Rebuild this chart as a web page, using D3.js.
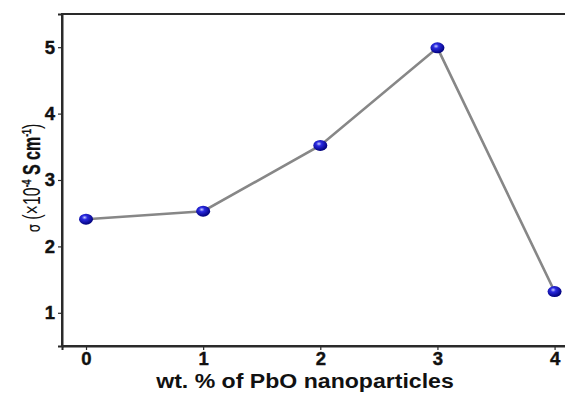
<!DOCTYPE html>
<html>
<head>
<meta charset="utf-8">
<script src="https://cdn.jsdelivr.net/npm/d3@7"></script>
<style>
  body { margin: 0; background: #fff; }
  svg { display: block; font-family: "Liberation Sans", Arial, sans-serif; }
</style>
</head>
<body>
<div id="chart"></div>
<script>
const wtPercent = [0, 1, 2, 3, 4];
const sigma = [2.41, 2.53, 3.52, 4.99, 1.32];
const xTicks = [0, 1, 2, 3, 4];
const yTicks = [1, 2, 3, 4, 5];

const width = 565, height = 393;
const x = d3.scaleLinear().domain([-0.205, 4.2]).range([62, 578]);
const y = d3.scaleLinear().domain([0.5, 5.5]).range([346, 14]);

const svg = d3.select("#chart").append("svg")
  .attr("width", width).attr("height", height);

// gradient for the shiny markers
const grad = svg.append("defs").append("radialGradient")
  .attr("id", "ball").attr("cx", "40%").attr("cy", "35%").attr("r", "65%");
grad.append("stop").attr("offset", "0%").attr("stop-color", "#c8ccff");
grad.append("stop").attr("offset", "30%").attr("stop-color", "#2a2ae0");
grad.append("stop").attr("offset", "100%").attr("stop-color", "#00007a");

// frame
svg.append("rect")
  .attr("x", x.range()[0]).attr("y", y.range()[1])
  .attr("width", x.range()[1] - x.range()[0])
  .attr("height", y.range()[0] - y.range()[1])
  .attr("fill", "none").attr("stroke", "#2a2a2a").attr("stroke-width", 2);

const fmt = d3.format("d");
const xAxis = svg.append("g")
  .attr("transform", `translate(0,${y.range()[0]})`)
  .call(d3.axisBottom(x).tickValues(xTicks).tickFormat(fmt).tickSize(4).tickPadding(2));
const yAxis = svg.append("g")
  .attr("transform", `translate(${x.range()[0]},0)`)
  .call(d3.axisLeft(y).tickValues(yTicks).tickFormat(fmt).tickSize(4).tickPadding(3));

[xAxis, yAxis].forEach(g => {
  g.select(".domain").attr("stroke", "#2a2a2a").attr("stroke-width", 2);
  g.selectAll(".tick line").attr("stroke", "#2a2a2a").attr("stroke-width", 1.2);
  g.selectAll(".tick text")
    .attr("fill", "#111")
    .attr("stroke", "#111").attr("stroke-width", 0.4)
    .style("font-size", "18.5px")
    .style("font-weight", "bold")
    .style("font-family", "'Liberation Sans', Arial, sans-serif");
});

// line
const line = d3.line().x((d, i) => x(wtPercent[i])).y(d => y(d));
svg.append("path")
  .datum(sigma)
  .attr("d", line)
  .attr("fill", "none")
  .attr("stroke", "#878787")
  .attr("stroke-width", 2.6);

// markers
svg.selectAll("ellipse.pt")
  .data(sigma)
  .enter().append("ellipse")
  .attr("class", "pt")
  .attr("cx", (d, i) => x(wtPercent[i]))
  .attr("cy", d => y(d))
  .attr("rx", 7)
  .attr("ry", 5.5)
  .attr("fill", "url(#ball)");

// axis titles (the source image is a little stretched sideways)
svg.append("text")
  .attr("transform", "translate(305,388) scale(1.1,1)")
  .attr("text-anchor", "middle")
  .style("font-size", "21px").style("font-weight", "bold")
  .attr("fill", "#111")
  .text("wt. % of PbO nanoparticles");

const yt = svg.append("text")
  .attr("transform", "translate(40,178) rotate(-90) scale(0.8,1.15)")
  .attr("text-anchor", "middle")
  .style("font-size", "20px").style("font-weight", "bold")
  .attr("fill", "#111").attr("stroke", "#111").attr("stroke-width", 0.3);
yt.append("tspan").style("font-weight", "normal").attr("stroke-width", 0)
  .style("font-family", "'DejaVu Sans', sans-serif").style("font-size", "16px").text("σ");
yt.append("tspan").style("font-weight", "normal").attr("stroke-width", 0).text(" (×10");
yt.append("tspan").attr("dy", -8).style("font-size", "11px").text("-4");
yt.append("tspan").attr("dy", 8).text(" S cm");
yt.append("tspan").attr("dy", -8).style("font-size", "11px").text("-1");
yt.append("tspan").attr("dy", 8).style("font-weight", "normal").attr("stroke-width", 0).text(")");
</script>
</body>
</html>
